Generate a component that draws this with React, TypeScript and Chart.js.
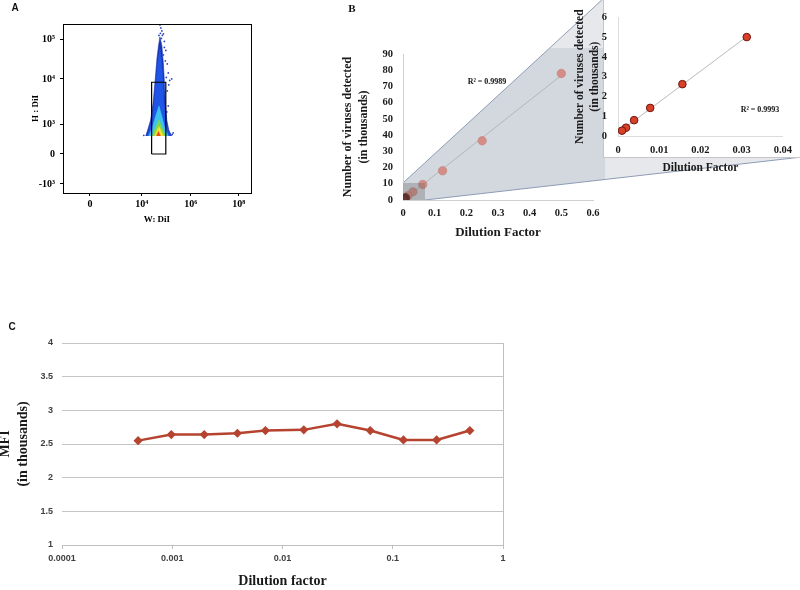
import React, { useEffect, useRef } from "react";
import { Chart, registerables } from "chart.js";
Chart.register(...registerables);

const SERIF = "'Liberation Serif', 'Times New Roman', serif";
const SANS = "'Liberation Sans', Arial, sans-serif";

// ---------------- Panel A : flow cytometry (biexponential display units) ----------------
const A_X_TICK_VALUES = [0, 1.06, 2.06, 3.04];
const A_X_TICK_LABELS = ["0", "10⁴", "10⁶", "10⁸"];
const A_Y_TICK_VALUES = [-1, 0, 0.97, 2.5, 3.8];
const A_Y_TICK_LABELS = ["-10³", "0", "10³", "10⁴", "10⁵"];
// density contours of the event cloud (x = W:DiI, y = H:DiI, display units)
const A_OUTER = [[1.14, 0.6], [1.18, 0.8], [1.24, 1.13], [1.29, 1.69], [1.33, 2.41], [1.37, 3.2], [1.4, 3.6], [1.43, 3.9], [1.47, 3.6], [1.5, 3.0], [1.52, 2.41], [1.54, 1.69], [1.57, 1.13], [1.61, 0.8], [1.67, 0.6]];
const A_BLUE = [[1.17, 0.6], [1.21, 0.8], [1.26, 1.13], [1.31, 1.69], [1.35, 2.41], [1.39, 3.1], [1.43, 3.5], [1.46, 3.1], [1.49, 2.41], [1.51, 1.69], [1.55, 1.13], [1.59, 0.8], [1.64, 0.6]];
const A_CYAN = [[1.2, 0.6], [1.27, 0.85], [1.34, 1.25], [1.41, 1.6], [1.47, 1.25], [1.53, 0.85], [1.6, 0.6]];
const A_GREEN = [[1.27, 0.6], [1.33, 0.85], [1.41, 1.13], [1.48, 0.85], [1.55, 0.6]];
const A_YELLOW = [[1.32, 0.6], [1.37, 0.78], [1.41, 0.91], [1.45, 0.78], [1.5, 0.6]];
const A_RED = [[1.36, 0.6], [1.4, 0.75], [1.44, 0.6]];
const A_EVENTS = [[1.43, 4.3], [1.47, 4.1], [1.5, 4.0], [1.45, 4.2], [1.48, 3.95], [1.44, 4.02], [1.52, 3.75], [1.55, 3.45], [1.5, 3.3], [1.58, 3.0], [1.6, 2.7], [1.56, 2.55], [1.63, 2.45], [1.67, 2.5], [1.61, 2.3], [1.58, 2.1], [1.6, 1.6], [1.68, 0.65], [1.7, 0.7], [1.1, 0.62], [1.41, 3.95], [1.53, 2.05], [1.57, 1.4], [1.46, 3.85], [1.54, 3.1], [1.52, 3.55]];
const A_GATE = [[1.26, 0], [1.55, 0], [1.55, 2.39], [1.26, 2.39], [1.26, 0]];

// ---------------- Panel B : viruses detected vs dilution ----------------
const B_DILUTION = [0.5, 0.25, 0.125, 0.0625, 0.03125, 0.015625, 0.0078125, 0.00390625, 0.001953125, 0.0009765625];
const B_VIRUSES = [78, 36.5, 18, 9.6, 5, 2.62, 1.42, 0.8, 0.42, 0.27];
const B_INSET_MAX_X = 0.04;
const B_R2_MAIN = "R² = 0.9989";
const B_R2_INSET = "R² = 0.9993";
// magnification call-out, in main-plot data units
const B_ZOOM_SOURCE = [[0, 0], [0.0695, 0], [0.0695, 10.5], [0, 10.5]];
const B_CALLOUT_OUTER = [[0, 10.5], [0.628, 123.3], [1.26, 123.3], [1.26, 26.5], [0.0695, 0], [0, 0]];
const B_CALLOUT_INNER = [[0, 10.5], [0.4636, 93.7], [0.638, 93.7], [0.638, 12.7], [0.0695, 0], [0, 0]];

// ---------------- Panel C : MFI vs dilution ----------------
const C_DILUTION = [0.00049, 0.00098, 0.00195, 0.0039, 0.007, 0.0156, 0.03125, 0.0625, 0.125, 0.25, 0.5];
const C_MFI = [2.55, 2.64, 2.64, 2.66, 2.70, 2.71, 2.80, 2.70, 2.56, 2.56, 2.70];
const C_X_TICKS = [0.0001, 0.001, 0.01, 0.1, 1];
const C_X_TICK_LABELS = ["0.0001", "0.001", "0.01", "0.1", "1"];

const toPts = (arr: number[][]) => arr.map(([x, y]) => ({ x, y }));

function linFit(xs: number[], ys: number[]) {
  const n = xs.length;
  const mx = xs.reduce((a, b) => a + b, 0) / n;
  const my = ys.reduce((a, b) => a + b, 0) / n;
  let sxy = 0, sxx = 0;
  for (let i = 0; i < n; i++) { sxy += (xs[i] - mx) * (ys[i] - my); sxx += (xs[i] - mx) ** 2; }
  const slope = sxy / sxx;
  const icpt = my - slope * mx;
  const x0 = Math.min(...xs), x1 = Math.max(...xs);
  return [{ x: x0, y: icpt + slope * x0 }, { x: x1, y: icpt + slope * x1 }];
}

const baseOpts = {
  responsive: false,
  animation: false,
  devicePixelRatio: 1,
  plugins: { legend: { display: false }, tooltip: { enabled: false } },
};

function useChart(ref: any, make: () => any) {
  useEffect(() => {
    const chart = new Chart(ref.current, make());
    return () => chart.destroy();
  }, []);
}

const framePlugin = {
  id: "frame",
  afterDraw(chart: any) {
    const { ctx, chartArea: a } = chart;
    ctx.save();
    ctx.strokeStyle = "#000";
    ctx.lineWidth = 1;
    ctx.strokeRect(Math.round(a.left) + 0.5, Math.round(a.top) + 0.5, Math.round(a.right - a.left), Math.round(a.bottom - a.top));
    ctx.restore();
  },
};

function poly(data: number[][], color: string, order: number) {
  return { data: toPts(data), showLine: true, fill: "shape", backgroundColor: color, borderColor: color, borderWidth: 0.6, pointRadius: 0, order };
}

function PanelA() {
  const ref = useRef<HTMLCanvasElement>(null);
  useChart(ref, () => ({
    type: "scatter",
    data: {
      datasets: [
        { data: toPts(A_GATE), showLine: true, fill: false, borderColor: "#000", borderWidth: 1.2, pointRadius: 0, order: 0 },
        { data: toPts(A_EVENTS), pointRadius: 0.9, pointBackgroundColor: "#2a47c0", pointBorderWidth: 0, order: 1 },
        poly(A_RED, "#ea4a22", 2),
        poly(A_YELLOW, "#f2e52e", 3),
        poly(A_GREEN, "#7dd856", 4),
        poly(A_CYAN, "#3cc2ee", 5),
        poly(A_BLUE, "#1f55e6", 6),
        poly(A_OUTER, "#1a33b0", 7),
      ],
    },
    options: {
      ...baseOpts,
      layout: { padding: { left: 30, top: 24, right: 9, bottom: 0 } },
      scales: {
        x: {
          type: "linear", min: -0.55, max: 3.29,
          afterFit: (s: any) => { s.height = 37; },
          afterBuildTicks: (s: any) => { s.ticks = A_X_TICK_VALUES.map((v) => ({ value: v })); },
          ticks: { callback: (_v: any, i: number) => A_X_TICK_LABELS[i], font: { family: SERIF, size: 10, weight: "bold" }, color: "#000", padding: 2, maxRotation: 0, autoSkip: false },
          grid: { drawOnChartArea: false, tickLength: 3, color: "#000" },
          border: { color: "#000" },
          title: { display: true, text: "W: DiI", font: { family: SERIF, size: 9, weight: "bold", lineHeight: 1.2 }, color: "#000", padding: { top: 0, bottom: 4.6 } },
        },
        y: {
          type: "linear", min: -1.3, max: 4.33,
          afterFit: (s: any) => { s.width = 33; },
          afterBuildTicks: (s: any) => { s.ticks = A_Y_TICK_VALUES.map((v) => ({ value: v })); },
          ticks: { callback: (_v: any, i: number) => A_Y_TICK_LABELS[i], font: { family: SERIF, size: 10, weight: "bold" }, color: "#000", padding: 5, autoSkip: false },
          grid: { drawOnChartArea: false, tickLength: 3, color: "#000" },
          border: { color: "#000" },
          title: { display: true, text: "H : DiI", font: { family: SERIF, size: 9, weight: "bold", lineHeight: 1.2 }, color: "#000", padding: { top: 0, bottom: 0 } },
        },
      },
    },
    plugins: [framePlugin],
  }));
  return <canvas ref={ref} width={260} height={230} style={{ position: "absolute", left: 0, top: 0, width: 260, height: 230 }} />;
}

const calloutPlugin = {
  id: "callout",
  beforeDraw(chart: any) {
    const { ctx, scales } = chart;
    const P = (p: number[]) => [scales.x.getPixelForValue(p[0]), scales.y.getPixelForValue(p[1])];
    const fillPoly = (pts: number[][], color: string) => {
      ctx.beginPath();
      pts.forEach((p, i) => { const [x, y] = P(p); if (i === 0) ctx.moveTo(x, y); else ctx.lineTo(x, y); });
      ctx.closePath();
      ctx.fillStyle = color;
      ctx.fill();
    };
    ctx.save();
    fillPoly(B_CALLOUT_OUTER, "#e7e8eb");
    fillPoly(B_CALLOUT_INNER, "#d3d7de");
    ctx.strokeStyle = "#8d9db6";
    ctx.lineWidth = 1;
    const seg = (a: number[], b: number[]) => { const [x0, y0] = P(a); const [x1, y1] = P(b); ctx.beginPath(); ctx.moveTo(x0, y0); ctx.lineTo(x1, y1); ctx.stroke(); };
    seg(B_CALLOUT_OUTER[0], B_CALLOUT_OUTER[1]);
    seg(B_CALLOUT_OUTER[4], B_CALLOUT_OUTER[3]);
    ctx.restore();
  },
  afterDatasetsDraw(chart: any) {
    const { ctx, scales } = chart;
    ctx.save();
    ctx.beginPath();
    B_ZOOM_SOURCE.forEach((p, i) => {
      const x = scales.x.getPixelForValue(p[0]); const y = scales.y.getPixelForValue(p[1]);
      if (i === 0) ctx.moveTo(x, y); else ctx.lineTo(x, y);
    });
    ctx.closePath();
    ctx.fillStyle = "rgba(95,95,95,0.32)";
    ctx.fill();
    ctx.restore();
  },
};

function PanelBMain() {
  const ref = useRef<HTMLCanvasElement>(null);
  useChart(ref, () => ({
    type: "scatter",
    data: {
      datasets: [
        {
          data: B_DILUTION.map((x, i) => ({ x, y: B_VIRUSES[i] })),
          pointRadius: 4.2,
          pointBackgroundColor: (c: any) => (c.raw && c.raw.x < 0.01 ? "#6e2119" : "rgba(212,138,130,0.95)"),
          pointBorderColor: (c: any) => (c.raw && c.raw.x < 0.01 ? "#4e1510" : "#c07c75"),
          pointBorderWidth: 0.6,
          order: 0,
        },
        { data: linFit(B_DILUTION, B_VIRUSES), showLine: true, borderColor: "#b5b5b5", borderWidth: 1, pointRadius: 0, order: 1 },
      ],
    },
    options: {
      ...baseOpts,
      layout: { padding: { left: 10, top: 54, right: 207, bottom: 0 } },
      scales: {
        x: {
          type: "linear", min: 0, max: 0.6,
          afterFit: (s: any) => { s.height = 45; },
          ticks: { stepSize: 0.1, font: { family: SERIF, size: 10.5, weight: "bold" }, color: "#1a1a1a", padding: 7, maxRotation: 0 },
          grid: { display: false, drawTicks: false },
          border: { color: "#d0d0d0" },
          title: { display: true, text: "Dilution Factor", font: { family: SERIF, size: 13, weight: "bold", lineHeight: 1.25 }, color: "#1a1a1a", padding: { top: 0, bottom: 4 } },
        },
        y: {
          type: "linear", min: 0, max: 90,
          afterFit: (s: any) => { s.width = 63; },
          ticks: { stepSize: 10, font: { family: SERIF, size: 10.5, weight: "bold" }, color: "#1a1a1a", padding: 10 },
          grid: { display: false, drawTicks: false },
          border: { color: "#d0d0d0" },
          title: { display: true, text: ["Number of viruses detected", "(in thousands)"], font: { family: SERIF, size: 12, weight: "bold", lineHeight: 1.333 }, color: "#1a1a1a", padding: { top: 0, bottom: 0 } },
        },
      },
    },
    plugins: [calloutPlugin],
  }));
  return <canvas ref={ref} width={470} height={245} style={{ position: "absolute", left: 330, top: 0, width: 470, height: 245 }} />;
}

const insetBoxPlugin = {
  id: "insetBox",
  beforeDraw(chart: any) {
    const { ctx, chartArea: a, width } = chart;
    ctx.save();
    const x0 = Math.round(a.left - 15) + 0.5;
    const y1 = Math.round(a.bottom + 21) + 0.5;
    ctx.fillStyle = "#ffffff";
    ctx.fillRect(x0, -2, width + 4, y1 + 2);
    ctx.strokeStyle = "#c6c6c6";
    ctx.lineWidth = 1;
    ctx.strokeRect(x0, -2, width + 4, y1 + 2);
    ctx.restore();
  },
};

function PanelBInset() {
  const ref = useRef<HTMLCanvasElement>(null);
  useChart(ref, () => {
    const xs: number[] = [], ys: number[] = [];
    B_DILUTION.forEach((x, i) => { if (x < B_INSET_MAX_X) { xs.push(x); ys.push(B_VIRUSES[i]); } });
    return {
      type: "scatter",
      data: {
        datasets: [
          { data: xs.map((x, i) => ({ x, y: ys[i] })), pointRadius: 3.8, pointBackgroundColor: "#d9402a", pointBorderColor: "#6e180e", pointBorderWidth: 1, order: 0 },
          { data: linFit(xs, ys), showLine: true, borderColor: "#a8a8a8", borderWidth: 0.8, pointRadius: 0, order: 1 },
        ],
      },
      options: {
        ...baseOpts,
        layout: { padding: { left: 3, top: 7, right: 16, bottom: 0 } },
        scales: {
          x: {
            type: "linear", min: 0, max: 0.04,
            afterFit: (s: any) => { s.height = 49; },
            ticks: { stepSize: 0.01, font: { family: SERIF, size: 10.5, weight: "bold" }, color: "#1a1a1a", padding: 8, maxRotation: 0 },
            grid: { display: false, drawTicks: false },
            border: { color: "#dcdcdc" },
            title: { display: true, text: "Dilution Factor", font: { family: SERIF, size: 11.5, weight: "bold", lineHeight: 1.25 }, color: "#1a1a1a", padding: { top: 0, bottom: 10 } },
          },
          y: {
            type: "linear", min: 0, max: 6,
            afterFit: (s: any) => { s.width = 45; },
            ticks: { stepSize: 1, font: { family: SERIF, size: 10.5, weight: "bold" }, color: "#1a1a1a", padding: 11 },
            grid: { display: false, drawTicks: false },
            border: { color: "#dcdcdc" },
            title: { display: true, text: ["Number of viruses detected", "(in thousands)"], font: { family: SERIF, size: 11.5, weight: "bold", lineHeight: 1.3 }, color: "#1a1a1a", padding: { top: 0, bottom: 0 } },
          },
        },
      },
      plugins: [insetBoxPlugin],
    };
  });
  return <canvas ref={ref} width={230} height={185} style={{ position: "absolute", left: 570, top: 0, width: 230, height: 185 }} />;
}

const rightBorderPlugin = {
  id: "rightBorder",
  afterDraw(chart: any) {
    const { ctx, chartArea: a } = chart;
    ctx.save();
    ctx.strokeStyle = "#bfbfbf";
    ctx.lineWidth = 1;
    const x = Math.round(a.right) + 0.5;
    ctx.beginPath(); ctx.moveTo(x, a.top); ctx.lineTo(x, a.bottom + 4); ctx.stroke();
    ctx.restore();
  },
};

function PanelC() {
  const ref = useRef<HTMLCanvasElement>(null);
  useChart(ref, () => ({
    type: "line",
    data: {
      datasets: [{
        data: C_DILUTION.map((x, i) => ({ x, y: C_MFI[i] })),
        borderColor: "#b5432f", backgroundColor: "#b5432f", borderWidth: 2.5,
        pointStyle: "rectRot", pointRadius: 4.6, pointBorderWidth: 0, pointBackgroundColor: "#b5432f",
        tension: 0, fill: false,
      }],
    },
    options: {
      ...baseOpts,
      layout: { padding: { left: 1, top: 33, right: 23, bottom: 0 } },
      scales: {
        x: {
          type: "logarithmic", min: 0.0001, max: 1,
          afterFit: (s: any) => { s.height = 45; },
          afterBuildTicks: (s: any) => { s.ticks = C_X_TICKS.map((v) => ({ value: v })); },
          ticks: { callback: (_v: any, i: number) => C_X_TICK_LABELS[i], font: { family: SANS, size: 9, weight: "bold" }, color: "#404040", padding: 4, maxRotation: 0, autoSkip: false },
          grid: { drawOnChartArea: false, tickLength: 4, color: "#bfbfbf" },
          border: { color: "#bfbfbf" },
          title: { display: true, text: "Dilution factor", font: { family: SERIF, size: 14, weight: "bold", lineHeight: 1.25 }, color: "#1a1a1a", padding: { top: 0, bottom: 0 } },
        },
        y: {
          type: "linear", min: 1, max: 4,
          afterFit: (s: any) => { s.width = 65; },
          ticks: { stepSize: 0.5, callback: (v: any) => String(Number(v)), font: { family: SANS, size: 9, weight: "bold" }, color: "#404040", padding: 9 },
          grid: { color: "#c4c4c4", drawTicks: false },
          border: { display: false },
          title: { display: true, text: ["MFI", "(in thousands)"], font: { family: SERIF, size: 14, weight: "bold", lineHeight: 1.25 }, color: "#1a1a1a", padding: { top: 0, bottom: 0 } },
        },
      },
    },
    plugins: [rightBorderPlugin],
  }));
  return <canvas ref={ref} width={530} height={280} style={{ position: "absolute", left: -4, top: 310, width: 530, height: 280 }} />;
}

function Label({ x, y, text, font }: { x: number; y: number; text: string; font: string }) {
  return (
    <div style={{ position: "absolute", left: x, top: y, transform: "translate(-50%,-50%)", font, color: "#111", whiteSpace: "nowrap", lineHeight: 1 }}>
      {text}
    </div>
  );
}

export default function App() {
  return (
    <div style={{ position: "absolute", left: 0, top: 0, width: 800, height: 590, background: "#fff", overflow: "hidden" }}>
      <PanelA />
      <PanelBMain />
      <PanelBInset />
      <PanelC />
      <Label x={15} y={8} text="A" font={`bold 10px ${SANS}`} />
      <Label x={352} y={8} text="B" font={`bold 11px ${SERIF}`} />
      <Label x={12} y={327} text="C" font={`bold 10px ${SANS}`} />
      <Label x={487} y={82} text={B_R2_MAIN} font={`bold 8px ${SERIF}`} />
      <Label x={760} y={110} text={B_R2_INSET} font={`bold 8px ${SERIF}`} />
    </div>
  );
}
